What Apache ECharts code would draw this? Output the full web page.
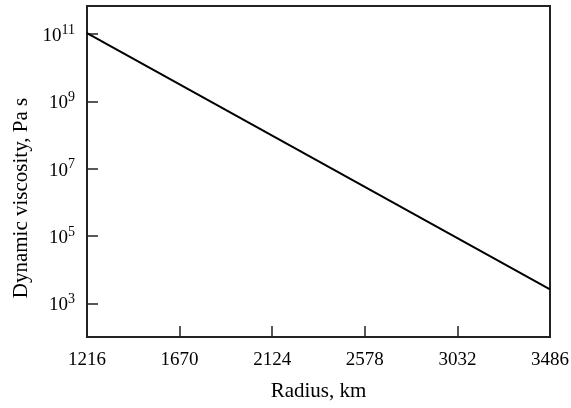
<!DOCTYPE html>
<html>
<head>
<meta charset="utf-8">
<script src="https://cdn.jsdelivr.net/npm/echarts@6/dist/echarts.min.js"></script>
<style>
  html, body { margin: 0; padding: 0; background: #fff; }
  #chart { width: 571px; height: 408px; }
</style>
</head>
<body>
<div id="chart"></div>
<script>
// radius (km) and dynamic viscosity (Pa s)
const radius = [1216, 3486];
const viscosity = [1.05e11, 2.6e3];
const xTicks = [1216, 1670, 2124, 2578, 3032, 3486];
const yTicks = [1e3, 1e5, 1e7, 1e9, 1e11];

const font = 'Liberation Serif';

let chart = echarts.init(document.getElementById('chart'));
let option = {
  animation: false,
  grid: {
    left: 87, top: 6, right: 21, bottom: 71,
    outerBoundsMode: 'none',
    show: true, borderColor: '#222', borderWidth: 2
  },
  xAxis: {
    type: 'value',
    min: 1216,
    max: 3486,
    name: 'Radius, km',
    nameLocation: 'middle',
    nameGap: 44,
    nameTextStyle: { fontFamily: font, fontSize: 21, color: '#000' },
    axisLine: { lineStyle: { color: '#222', width: 2 } },
    axisTick: { inside: true, length: 11, lineStyle: { color: '#222', width: 1.5 }, customValues: xTicks },
    axisLabel: {
      fontFamily: font, fontSize: 19, color: '#000', margin: 14, customValues: xTicks,
      formatter: function (v) { return String(v); }
    },
    splitLine: { show: false }
  },
  yAxis: {
    type: 'log',
    logBase: 10,
    min: 100,
    max: Math.pow(10, 11.83),
    name: 'Dynamic viscosity, Pa s',
    nameLocation: 'middle',
    nameGap: 53,
    nameTextStyle: { fontFamily: font, fontSize: 21, color: '#000', padding: [0, 53, 0, 0] },
    axisLine: { lineStyle: { color: '#222', width: 2 } },
    axisTick: { inside: true, length: 11, lineStyle: { color: '#222', width: 1.5 }, customValues: yTicks },
    axisLabel: {
      customValues: yTicks,
      margin: 12,
      formatter: function (v) {
        return '{b|10}{s|' + Math.round(Math.log10(v)) + '}';
      },
      rich: {
        b: { fontFamily: font, fontSize: 19, color: '#000', padding: [4, 0, 0, 0] },
        s: { fontFamily: font, fontSize: 14, color: '#000', padding: [0, 0, 8, 0] }
      }
    },
    splitLine: { show: false }
  },
  series: [{
    type: 'line',
    data: radius.map((r, i) => [r, viscosity[i]]),
    showSymbol: false,
    lineStyle: { color: '#000', width: 2 }
  }]
};
chart.setOption(option);
</script>
</body>
</html>
